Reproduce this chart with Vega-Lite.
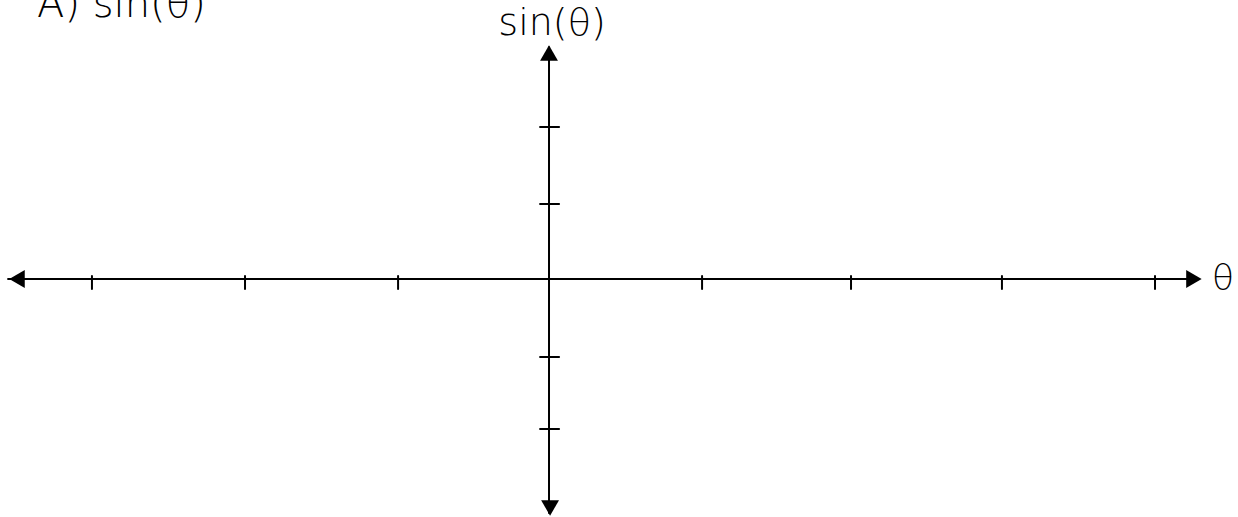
{
  "$schema": "https://vega.github.io/schema/vega-lite/v6.json",
  "width": 1238,
  "height": 517,
  "autosize": {"type": "none"},
  "padding": 0,
  "background": "white",
  "config": {"view": {"stroke": null}},
  "datasets": {
    "lines": [
      {"part": "x-axis", "x1": -3.559, "x2": 4.25, "y1": 0.0, "y2": 0.0},
      {"part": "y-axis", "x1": 0.0, "x2": 0.0, "y1": 3.03, "y2": -3.06},
      {"part": "xtick", "x1": -3.007, "x2": -3.007, "y1": 0.039, "y2": -0.131},
      {"part": "xtick", "x1": -2.0, "x2": -2.0, "y1": 0.039, "y2": -0.131},
      {"part": "xtick", "x1": -0.993, "x2": -0.993, "y1": 0.039, "y2": -0.131},
      {"part": "xtick", "x1": 1.007, "x2": 1.007, "y1": 0.039, "y2": -0.131},
      {"part": "xtick", "x1": 1.987, "x2": 1.987, "y1": 0.039, "y2": -0.131},
      {"part": "xtick", "x1": 2.98, "x2": 2.98, "y1": 0.039, "y2": -0.131},
      {"part": "xtick", "x1": 3.987, "x2": 3.987, "y1": 0.039, "y2": -0.131},
      {"part": "ytick", "x1": -0.059, "x2": 0.066, "y1": 1.987, "y2": 1.987},
      {"part": "ytick", "x1": -0.059, "x2": 0.066, "y1": 0.98, "y2": 0.98},
      {"part": "ytick", "x1": -0.059, "x2": 0.066, "y1": -1.02, "y2": -1.02},
      {"part": "ytick", "x1": -0.059, "x2": 0.066, "y1": -1.96, "y2": -1.96}
    ],
    "arrows": [
      {"x": -3.5, "y": 0.0, "dir": "triangle-left"},
      {"x": 4.243, "y": 0.0, "dir": "triangle-right"},
      {"x": 0.0, "y": 2.954, "dir": "triangle-up"},
      {"x": 0.007, "y": -2.993, "dir": "triangle-down"}
    ],
    "labels": [
      {"name": "title", "x": -3.368, "y": 3.42, "text": "A) sin(θ)"},
      {"name": "ylab", "x": 0.02, "y": 3.19, "text": "sin(θ)"},
      {"name": "xlab", "x": 4.434, "y": 0.0, "text": "θ"}
    ]
  },
  "layer": [
    {
      "data": {"name": "lines"},
      "mark": {"type": "rule", "stroke": "black", "strokeWidth": 2, "strokeCap": "round"},
      "encoding": {
        "x": {"field": "x1", "type": "quantitative", "scale": {"domain": [-3.612, 4.533], "nice": false, "zero": false}, "axis": null},
        "x2": {"field": "x2"},
        "y": {"field": "y1", "type": "quantitative", "scale": {"domain": [-3.111, 3.647], "nice": false, "zero": false}, "axis": null},
        "y2": {"field": "y2"}
      }
    },
    {
      "data": {"name": "arrows"},
      "mark": {"type": "point", "filled": true, "color": "black", "size": 320, "opacity": 1},
      "encoding": {
        "x": {"field": "x", "type": "quantitative"},
        "y": {"field": "y", "type": "quantitative"},
        "shape": {"field": "dir", "type": "nominal", "scale": null, "legend": null}
      }
    },
    {
      "data": {"name": "labels"},
      "transform": [{"filter": "datum.name === 'title'"}],
      "mark": {"type": "text", "align": "left", "baseline": "alphabetic", "fontSize": 40, "font": "DejaVu Sans", "fontWeight": 300, "color": "black"},
      "encoding": {
        "x": {"field": "x", "type": "quantitative"},
        "y": {"field": "y", "type": "quantitative"},
        "text": {"field": "text"}
      }
    },
    {
      "data": {"name": "labels"},
      "transform": [{"filter": "datum.name === 'ylab'"}],
      "mark": {"type": "text", "align": "center", "baseline": "alphabetic", "fontSize": 38, "font": "DejaVu Sans", "fontWeight": 300, "color": "black"},
      "encoding": {
        "x": {"field": "x", "type": "quantitative"},
        "y": {"field": "y", "type": "quantitative"},
        "text": {"field": "text"}
      }
    },
    {
      "data": {"name": "labels"},
      "transform": [{"filter": "datum.name === 'xlab'"}],
      "mark": {"type": "text", "align": "center", "baseline": "middle", "fontSize": 36, "font": "DejaVu Sans", "fontWeight": 300, "color": "black"},
      "encoding": {
        "x": {"field": "x", "type": "quantitative"},
        "y": {"field": "y", "type": "quantitative"},
        "text": {"field": "text"}
      }
    }
  ]
}
